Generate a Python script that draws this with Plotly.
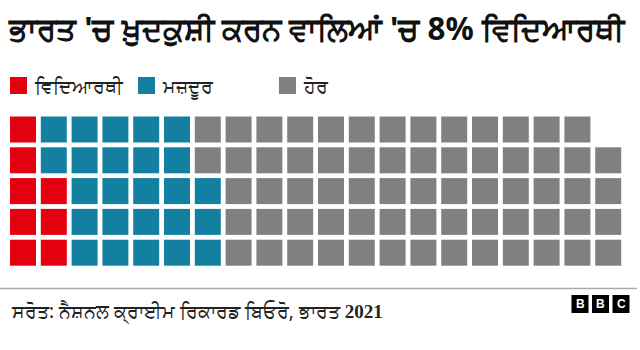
import plotly.graph_objects as go

categories = ["ਵਿਦਿਆਰਥੀ", "ਮਜ਼ਦੂਰ", "ਹੋਰ"]
counts = [8, 25, 66]
colors = ["#E3000F", "#1380A1", "#808080"]
n_rows = 5
title = "ਭਾਰਤ 'ਚ ਖ਼ੁਦਕੁਸ਼ੀ ਕਰਨ ਵਾਲਿਆਂ 'ਚ 8% ਵਿਦਿਆਰਥੀ"
source_text = "ਸਰੋਤ: ਨੈਸ਼ਨਲ ਕ੍ਰਾਈਮ ਰਿਕਾਰਡ ਬਿਓਰੋ, ਭਾਰਤ"
source_year = "2021"

W, H = 640, 350

fig = go.Figure()
idx = 0
for cat, cnt, col in zip(categories, counts, colors):
    xs, ys = [], []
    for _ in range(cnt):
        xs.append(idx // n_rows)
        ys.append(idx % n_rows)
        idx += 1
    fig.add_trace(go.Scatter(
        x=xs, y=ys, mode="markers", name=cat, showlegend=False,
        marker=dict(symbol="square", size=26, color=col, line=dict(width=0)),
        hoverinfo="skip",
    ))

pitch = 30.8
x0 = -23 / pitch
y1 = 252.7 / pitch

def px(x):
    return x / W

def py(y):
    return 1 - y / H

shapes = [
    dict(type="line", xref="paper", yref="paper", x0=0, x1=px(637),
         y0=py(288.5), y1=py(288.5), line=dict(color="#AAAAAA", width=1.5)),
]
annotations = [
    dict(text=source_text + " <span style=\"font-family:'Liberation Serif'\"><b>" + source_year + "</b></span>",
         xref="paper", yref="paper", x=px(9), y=py(311),
         xanchor="left", yanchor="middle", showarrow=False,
         font=dict(size=19, color="#222222", family="Noto Sans")),
]

# manual legend
leg_sq_x = [10, 138, 279]
for cat, col, lx in zip(categories, colors, leg_sq_x):
    shapes.append(dict(type="rect", xref="paper", yref="paper",
                       x0=px(lx), x1=px(lx + 17), y0=py(94), y1=py(77),
                       fillcolor=col, line=dict(width=0)))
    annotations.append(dict(text=cat, xref="paper", yref="paper",
                            x=px(lx + 22), y=py(86), xanchor="left", yanchor="middle",
                            showarrow=False,
                            font=dict(size=19, color="#222222", family="Noto Sans")))

# BBC logo
for i, letter in enumerate(["B", "B", "C"]):
    cx = 580 + i * 20.5
    shapes.append(dict(type="rect", xref="paper", yref="paper",
                       x0=px(cx - 8.5), x1=px(cx + 8.5), y0=py(313), y1=py(295),
                       fillcolor="#000000", line=dict(width=0)))
    annotations.append(dict(text="<b>" + letter + "</b>", xref="paper", yref="paper",
                            x=px(cx), y=py(304), xanchor="center", yanchor="middle",
                            showarrow=False,
                            font=dict(size=12, color="white", family="Arial")))

fig.update_layout(
    width=W, height=H,
    margin=dict(l=0, r=0, t=0, b=0),
    paper_bgcolor="white", plot_bgcolor="white",
    showlegend=False,
    xaxis=dict(range=[x0, x0 + W / pitch], visible=False, fixedrange=True),
    yaxis=dict(range=[y1 - H / pitch, y1], visible=False, fixedrange=True),
    title=dict(text="<b>" + title + "</b>", x=px(9), xanchor="left",
               y=py(29), yanchor="middle",
               font=dict(size=31.3, color="#111111", family="Noto Sans")),
    font=dict(family="Noto Sans"),
    shapes=shapes,
    annotations=annotations,
)

fig.write_html("out.html")
